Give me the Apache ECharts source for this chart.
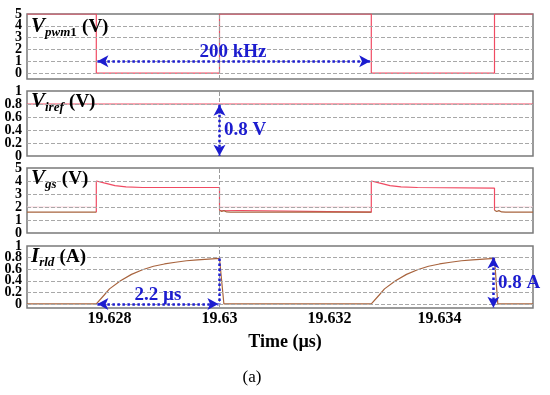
<!DOCTYPE html>
<html><head><meta charset="utf-8">
<script src="https://cdn.jsdelivr.net/npm/echarts@6/dist/echarts.min.js"></script>
<style>html,body{margin:0;padding:0;background:#fff}#c{width:550px;height:395px}</style>
</head><body><div id="c"></div>
<script>
// ---- data ----
const xTicks = [19.628, 19.63, 19.632, 19.634];
const xRange = [19.6265, 19.6357];

const pwmTime  = [19.6265, 19.62776, 19.62776, 19.630, 19.630, 19.63276, 19.63276, 19.635, 19.635, 19.6357];
const pwmValue = [5, 5, 0, 0, 5, 5, 0, 0, 5, 5];
const pwmTicks = [0, 1, 2, 3, 4, 5];

const irefTime  = [19.6265, 19.6357];
const irefValue = [0.8, 0.8];
const irefTicks = [0, 0.2, 0.4, 0.6, 0.8, 1];

const vgsHighTime  = [19.62776, 19.62776, 19.6279, 19.6281, 19.6283, 19.6286, 19.6300, 19.6300, 19.63276, 19.63276, 19.6329, 19.6331, 19.6333, 19.6336, 19.6350, 19.6350];
const vgsHighValue = [1.6, 4.0, 3.85, 3.65, 3.55, 3.5, 3.5, 1.75, 1.6, 4.0, 3.85, 3.65, 3.55, 3.5, 3.45, 1.75];
const vgsLowTime  = [19.6265, 19.62776, null, 19.6300, 19.63004, 19.63008, 19.63013, 19.6302, 19.63276, null, 19.6350, 19.63504, 19.63508, 19.63513, 19.6352, 19.6357];
const vgsLowValue = [1.6, 1.6, null, 1.75, 1.65, 1.72, 1.62, 1.6, 1.6, null, 1.75, 1.65, 1.72, 1.62, 1.6, 1.6];
const vgsPinkTime  = [19.6265, 19.62776, null, 19.6300, 19.63276, null, 19.6350, 19.6357];
const vgsPinkValue = [2.0, 2.0, null, 2.0, 2.0, null, 2.0, 2.0];
const vgsTicks = [0, 1, 2, 3, 4, 5];

const irldTime  = [19.6265, 19.62776, 19.6279, 19.6280, 19.6282, 19.6284, 19.6286, 19.6288, 19.6290, 19.6292, 19.6294, 19.6296, 19.6298, 19.6300, 19.63008, 19.63276,
                   19.6329, 19.6330, 19.6332, 19.6334, 19.6336, 19.6338, 19.6340, 19.6342, 19.6344, 19.6346, 19.6348, 19.6350, 19.63506, 19.6357];
const irldValue = [0, 0, 0.15, 0.26, 0.40, 0.51, 0.59, 0.65, 0.69, 0.72, 0.745, 0.76, 0.775, 0.785, 0, 0,
                   0.15, 0.26, 0.40, 0.51, 0.59, 0.65, 0.69, 0.72, 0.745, 0.76, 0.775, 0.785, 0, 0];
const irldTicks = [0, 0.2, 0.4, 0.6, 0.8, 1];

// ---- helpers ----
const zip = (a, b) => a.map((t, i) => (t === null ? [null, null] : [t, b[i]]));
const SERIF = 'Liberation Serif';
const BLUE = '#1c1ccf';
const RED = '#f04a62';
const BROWN = '#a8643e';

const grids = [
  {left: 27, right: 17, top: 14, height: 65},
  {left: 27, right: 17, top: 91, height: 65},
  {left: 27, right: 17, top: 168, height: 65},
  {left: 27, right: 17, top: 246, height: 62}
].map(g => Object.assign(g, {show: true, borderColor: '#7a7a7a', borderWidth: 1.5, backgroundColor: '#fff'}));

const yDefs = [
  {min: -0.5, max: 5, ticks: pwmTicks, hLines: [0, 1, 2, 3, 4]},
  {min: 0, max: 1, ticks: irefTicks, hLines: [0.2, 0.4, 0.6, 0.8]},
  {min: 0, max: 5, ticks: vgsTicks, hLines: [1, 2, 3, 4]},
  {min: -0.07, max: 1, ticks: irldTicks, hLines: [0, 0.2, 0.4, 0.6, 0.8]}
];

const xAxes = grids.map((g, i) => ({
  type: 'value', gridIndex: i, min: xRange[0], max: xRange[1],
  axisLine: {show: false}, axisTick: {show: false}, splitLine: {show: false},
  axisLabel: i === 3 ? {
    show: true, customValues: xTicks, formatter: v => String(v), margin: 3,
    showMinLabel: true, showMaxLabel: true, hideOverlap: false,
    fontFamily: SERIF, fontWeight: 'bold', fontSize: 16, color: '#000'
  } : {show: false}
}));

// two label axes per panel (alternate ticks) so neighbouring labels never get culled
const yAxisFor = (d, i, parity) => ({
  type: 'value', gridIndex: i, min: d.min, max: d.max, position: 'left', offset: 0,
  axisLine: {show: false}, axisTick: {show: false}, splitLine: {show: false},
  axisLabel: {show: true, customValues: d.ticks.filter((_, k) => k % 2 === parity), formatter: v => String(v), margin: 5,
    showMinLabel: true, showMaxLabel: true, hideOverlap: false,
    fontFamily: SERIF, fontWeight: 'bold', fontSize: 14, color: '#000'}
});
const yAxes = yDefs.map((d, i) => yAxisFor(d, i, 0)).concat(yDefs.map((d, i) => yAxisFor(d, i, 1)));

const series = [];
// grid lines
yDefs.forEach((d, i) => {
  const lines = [];
  d.hLines.forEach(v => lines.push({yAxis: v, lineStyle: {color: '#a8a8a8', type: [4, 2], width: 1}}));
  xTicks.forEach(v => lines.push({xAxis: v, lineStyle: {color: '#9a9a9a', type: [4, 2], width: 1}}));
  series.push({
    type: 'line', xAxisIndex: i, yAxisIndex: i, data: [[xRange[0], d.min]], showSymbol: false,
    lineStyle: {opacity: 0}, silent: true, z: 1,
    markLine: {silent: true, symbol: ['none', 'none'], label: {show: false}, animation: false, data: lines}
  });
});

const trace = (i, data, color, width, z) => ({
  type: 'line', xAxisIndex: i, yAxisIndex: i, data: data, showSymbol: false, connectNulls: false,
  lineStyle: {color: color, width: width}, itemStyle: {color: color}, z: z, silent: true
});

series.push(trace(0, zip(pwmTime, pwmValue), RED, 1.2, 3));
series.push(trace(1, zip(irefTime, irefValue), RED, 1.2, 3));
series.push(trace(2, zip(vgsPinkTime, vgsPinkValue), '#f9d0d8', 1, 2));
series.push(trace(2, zip(vgsHighTime, vgsHighValue), RED, 1.2, 3));
series.push(trace(2, zip(vgsLowTime, vgsLowValue), BROWN, 1.2, 4));
series.push(trace(3, zip(irldTime, irldValue), BROWN, 1.2, 3));

// annotation arrows
const arrowLine = (i, a, b, arrows) => ({
  type: 'line', xAxisIndex: i, yAxisIndex: i, data: [a], showSymbol: false, lineStyle: {opacity: 0}, z: 5, silent: true,
  markLine: {silent: true, animation: false, symbol: arrows ? ['arrow', 'arrow'] : ['none', 'none'], symbolSize: [9, 11],
    label: {show: false}, lineStyle: {color: BLUE, type: 'dotted', width: 2.5},
    data: [[{coord: a}, {coord: b}]]}
});
series.push(arrowLine(0, [19.62778, 1], [19.63274, 1], true));
series.push(arrowLine(1, [19.630, 0.79], [19.630, 0.005], true));
series.push(arrowLine(3, [19.62778, 0], [19.62998, 0], true));
series.push(arrowLine(3, [19.630, 0.785], [19.630, 0], false));
series.push(arrowLine(3, [19.63498, 0.8], [19.63498, -0.065], true));

const richLab = {
  v: {fontFamily: SERIF, fontStyle: 'italic', fontWeight: 'bold', fontSize: 21, color: '#000', verticalAlign: 'bottom', padding: [0, 0, 2, 0]},
  s: {fontFamily: SERIF, fontStyle: 'italic', fontWeight: 'bold', fontSize: 13, color: '#000', verticalAlign: 'bottom'},
  n: {fontFamily: SERIF, fontWeight: 'bold', fontSize: 13, color: '#000', verticalAlign: 'bottom'},
  u: {fontFamily: SERIF, fontWeight: 'bold', fontSize: 19, color: '#000', verticalAlign: 'bottom', padding: [0, 0, 2, 0]}
};
const panelTitle = (text, top) => ({
  text: text, left: 31, top: top, padding: 0,
  textStyle: {rich: richLab, fontSize: 19}
});

const annot = (text, x, y, align) => ({
  type: 'text', x: x, y: y, z: 100, silent: true,
  style: {text: text, fill: BLUE, font: 'bold 19px "Liberation Serif"', textAlign: align || 'left', textVerticalAlign: 'middle'}
});

const option = {
  animation: false,
  backgroundColor: '#fff',
  grid: grids,
  xAxis: xAxes,
  yAxis: yAxes,
  series: series,
  title: [
    panelTitle('{v|V}{s|pwm}{n|1} {u|(V)}', 16),
    panelTitle('{v|V}{s|iref} {u|(V)}', 91),
    panelTitle('{v|V}{s|gs} {u|(V)}', 168),
    panelTitle('{v|I}{s|rld} {u|(A)}', 246),
    {text: 'Time (µs)', left: 285, top: 333, textAlign: 'center', padding: 0,
      textStyle: {fontFamily: SERIF, fontWeight: 'bold', fontSize: 18, color: '#000'}},
    {text: '(a)', left: 252, top: 369, textAlign: 'center', padding: 0,
      textStyle: {fontFamily: SERIF, fontWeight: 'normal', fontSize: 17, color: '#000'}}
  ],
  graphic: [
    annot('200 kHz', 233, 52, 'center'),
    annot('0.8 V', 224, 130, 'left'),
    annot('2.2 µs', 158, 295, 'center'),
    annot('0.8 A', 498, 283, 'left')
  ]
};
const chart = echarts.init(document.getElementById('c'), null, {renderer: 'canvas'});
chart.setOption(option);
</script></body></html>
